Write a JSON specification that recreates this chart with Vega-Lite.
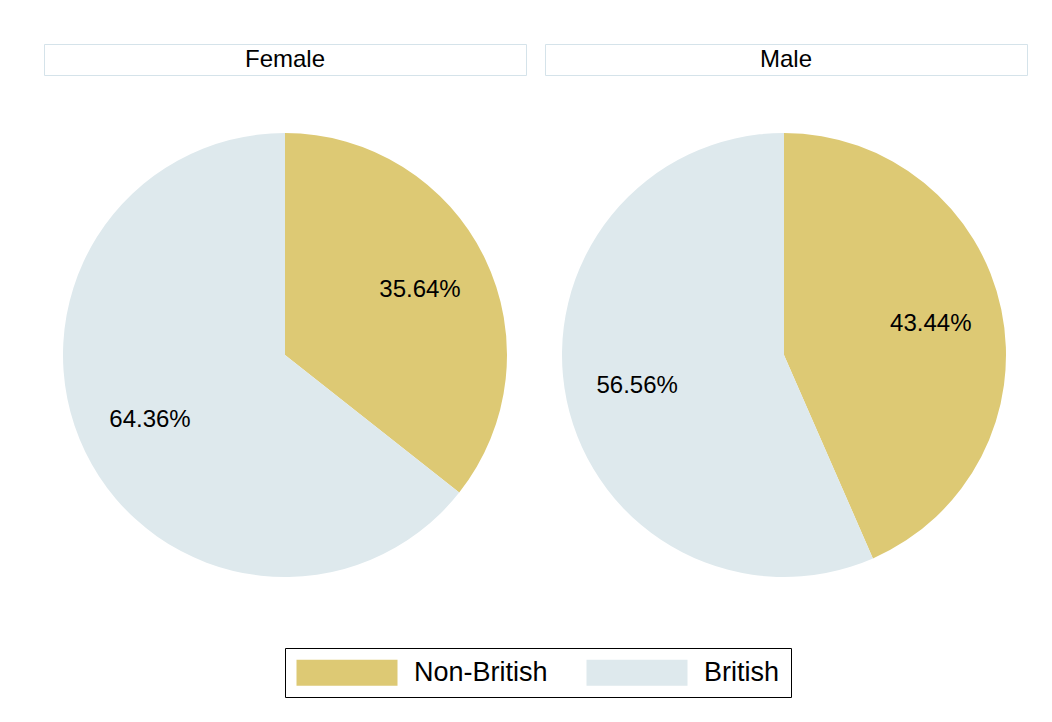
{
  "$schema": "https://vega.github.io/schema/vega-lite/v6.json",
  "padding": {"top": 43, "left": 43, "right": 0, "bottom": 0},
  "background": "white",
  "data": {"values": [
    {"gender": "Female", "group": "Non-British", "pct": 35.64, "ord": 1, "label": "35.64%"},
    {"gender": "Female", "group": "British", "pct": 64.36, "ord": 2, "label": "64.36%"},
    {"gender": "Male", "group": "Non-British", "pct": 43.44, "ord": 1, "label": "43.44%"},
    {"gender": "Male", "group": "British", "pct": 56.56, "ord": 2, "label": "56.56%"}
  ]},
  "config": {
    "font": "Liberation Sans",
    "concat": {"spacing": 17},
    "legend": {
      "orient": "none",
      "legendX": 241,
      "legendY": 604,
      "direction": "horizontal",
      "strokeColor": "black",
      "padding": 11,
      "labelFontSize": 27,
      "labelFont": "Liberation Sans",
      "labelColor": "black",
      "labelOffset": 91,
      "columnPadding": 38,
      "symbolType": "M-1,-1L6.77,-1L6.77,1L-1,1Z",
      "symbolSize": 676,
      "symbolStrokeWidth": 0,
      "title": null
    }
  },
  "vconcat": [
    {
      "hconcat": [
        {
          "width": 482, "height": 31,
          "view": {"stroke": "#d5e3ea", "fill": "white"},
          "transform": [{"filter": "datum.gender == 'Female' && datum.ord == 1"}],
          "mark": {"type": "text", "fontSize": 24, "color": "black", "font": "Liberation Sans"},
          "encoding": {"text": {"field": "gender"}}
        },
        {
          "width": 482, "height": 31,
          "view": {"stroke": "#d5e3ea", "fill": "white"},
          "transform": [{"filter": "datum.gender == 'Male' && datum.ord == 1"}],
          "mark": {"type": "text", "fontSize": 24, "color": "black", "font": "Liberation Sans"},
          "encoding": {"text": {"field": "gender"}}
        }
      ]
    },
    {
      "hconcat": [
        {
          "width": 482, "height": 440,
          "view": {"stroke": null},
          "transform": [{"filter": "datum.gender == 'Female'"}],
          "encoding": {
            "theta": {"field": "pct", "type": "quantitative", "stack": true},
            "order": {"field": "ord", "type": "quantitative"}
          },
          "layer": [
            {
              "mark": {"type": "arc", "radius": 222},
              "encoding": {
                "color": {"field": "group", "type": "nominal",
                  "scale": {"domain": ["Non-British", "British"], "range": ["#ddc974", "#dee9ed"]},
                  "legend": {}}
              }
            },
            {
              "mark": {"type": "text", "radius": 150, "fontSize": 24, "color": "black"},
              "encoding": {"text": {"field": "label"}}
            }
          ]
        },
        {
          "width": 482, "height": 440,
          "view": {"stroke": null},
          "transform": [{"filter": "datum.gender == 'Male'"}],
          "encoding": {
            "theta": {"field": "pct", "type": "quantitative", "stack": true},
            "order": {"field": "ord", "type": "quantitative"}
          },
          "layer": [
            {
              "mark": {"type": "arc", "radius": 222},
              "encoding": {
                "color": {"field": "group", "type": "nominal",
                  "scale": {"domain": ["Non-British", "British"], "range": ["#ddc974", "#dee9ed"]}}
              }
            },
            {
              "mark": {"type": "text", "radius": 150, "fontSize": 24, "color": "black"},
              "encoding": {"text": {"field": "label"}}
            }
          ]
        }
      ]
    }
  ],
  "spacing": 57
}
